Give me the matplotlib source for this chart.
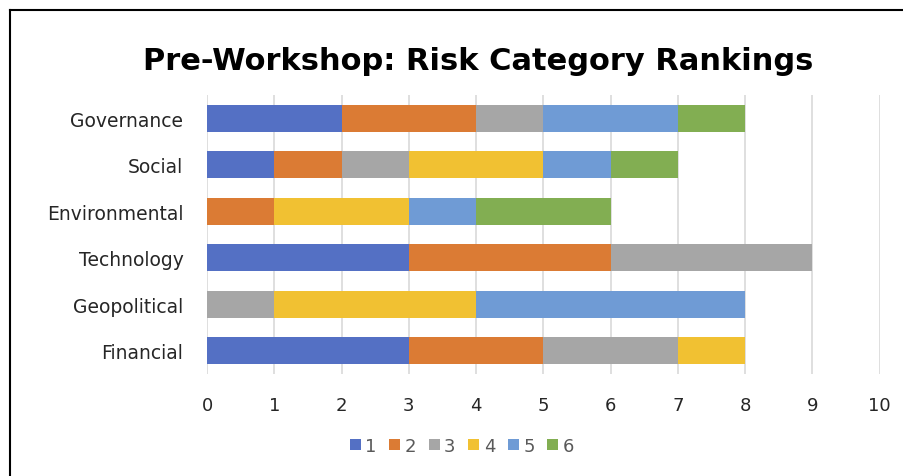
import numpy as np
import matplotlib.pyplot as plt
from matplotlib.lines import Line2D

plt.rcParams['font.family'] = ['DejaVu Sans']

categories = ['Governance', 'Social', 'Environmental', 'Technology', 'Geopolitical', 'Financial']
rank_labels = ['1', '2', '3', '4', '5', '6']
r1 = [2, 1, 0, 3, 0, 3]
r2 = [2, 1, 1, 3, 0, 2]
r3 = [1, 1, 0, 3, 1, 2]
r4 = [0, 2, 2, 0, 3, 1]
r5 = [2, 1, 1, 0, 4, 0]
r6 = [1, 1, 2, 0, 0, 0]
colors = ['#5470C4', '#DB7B34', '#A6A6A6', '#F1C132', '#6F9BD5', '#82AE52']

fig = plt.figure(figsize=(9.04, 4.77), dpi=100)
ax = fig.add_axes([0.229, 0.214, 0.744, 0.585])

y = np.arange(len(categories))
left = np.zeros(len(categories))
for vals, lab, c in zip([r1, r2, r3, r4, r5, r6], rank_labels, colors):
    ax.barh(y, vals, left=left, height=0.58, color=c, label=lab, zorder=3)
    left += np.array(vals)

ax.set_xlim(0, 10)
ax.set_ylim(len(categories) - 0.5, -0.5)
ax.set_yticks(y)
ax.set_yticklabels(categories, fontsize=13.5)
ax.set_xticks(range(11))
ax.tick_params(axis='x', labelsize=13, length=0, pad=16, labelcolor='#262626')
ax.tick_params(axis='y', length=0, pad=17, labelcolor='#262626')
ax.grid(axis='x', color='#D9D9D9', linewidth=1.2, zorder=0)
for s in ax.spines.values():
    s.set_visible(False)

fig.text(0.529, 0.872, 'Pre-Workshop: Risk Category Rankings', ha='center', va='center',
         fontsize=22, fontweight='bold', color='black')

fig.legend(loc='center', bbox_to_anchor=(0.511, 0.063), ncol=6, frameon=False,
           fontsize=13, handlelength=0.6, handleheight=0.6, handletextpad=0.25,
           columnspacing=0.7, labelcolor='#595959')

# outer frame (left and top edges)
fig.add_artist(Line2D([0.011, 0.011], [0, 0.977], color='black', lw=1.5, transform=fig.transFigure))
fig.add_artist(Line2D([0.011, 1.0], [0.977, 0.977], color='black', lw=1.5, transform=fig.transFigure))

fig.savefig('out.png', dpi=100)
